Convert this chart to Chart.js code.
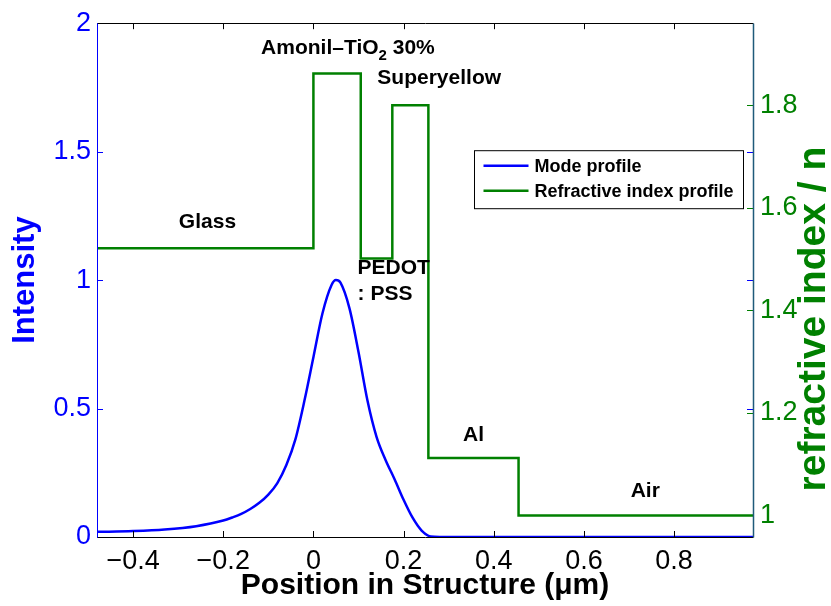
<!DOCTYPE html>
<html lang="en">
<head>
<meta charset="UTF-8">
<title>Mode and refractive index profile</title>
<script src="https://cdn.jsdelivr.net/npm/chart.js"></script>
<style>
  html, body { margin: 0; padding: 0; background: #fff; }
  #wrap { width: 831px; height: 606px; }
</style>
</head>
<body>
<div id="wrap"><canvas id="modeChart" width="831" height="606"></canvas></div>
<script>
// mode intensity (position in um)
const modeX = [-0.48, -0.40, -0.33, -0.26, -0.20, -0.18, -0.16, -0.14, -0.12, -0.10, -0.08, -0.06,
               -0.04, -0.02, 0.00, 0.02, 0.04, 0.05, 0.06, 0.08, 0.10, 0.12, 0.14, 0.16, 0.18,
               0.20, 0.22, 0.24, 0.26, 0.28, 0.40, 0.60, 0.80, 0.975];
const modeIntensity = [0.020, 0.023, 0.029, 0.042, 0.064, 0.076, 0.090, 0.109, 0.133, 0.165, 0.210, 0.280,
                       0.380, 0.530, 0.700, 0.870, 0.980, 1.000, 0.990, 0.890, 0.720, 0.530, 0.390, 0.300, 0.225,
                       0.145, 0.075, 0.025, 0.002, 0, 0, 0, 0, 0];

// layer stack
const layerNames = ['Glass', 'Amonil\u2013TiO2 30%', 'PEDOT : PSS', 'Superyellow', 'Al', 'Air'];
const layerStart = [-0.48, 0, 0.105, 0.175, 0.255, 0.455];
const layerEnd = [0, 0.105, 0.175, 0.255, 0.455, 0.975];
const layerIndex = [1.521, 1.862, 1.501, 1.80, 1.112, 1.0];

const xTicks = [-0.4, -0.2, 0, 0.2, 0.4, 0.6, 0.8];
const intensityTicks = [0, 0.5, 1, 1.5, 2];
const indexTicks = [1, 1.2, 1.4, 1.6, 1.8];

const BLUE = '#0000ff';
const GREEN = '#008000';
const FONT = '"Liberation Sans", Arial, Helvetica, sans-serif';

const modeData = modeX.map((x, i) => ({ x: x, y: modeIntensity[i] }));
const indexData = [];
layerStart.forEach((s, i) => {
    indexData.push({ x: s, y: layerIndex[i] });
    indexData.push({ x: layerEnd[i], y: layerIndex[i] });
});

function fixTicks(values) {
    return scale => { scale.ticks = values.map(v => ({ value: v })); };
}
const fmt = v => String(Math.round(v * 10) / 10).replace('-', '\u2212');

// label anchors (data coords on the x / refractive index axes)
const labelSpots = [
    { x: -0.235, n: 1.571, align: 'center' },
    { x: -0.116, n: 1.912, align: 'left' },
    { x: 0.098, n: 1.482, align: 'left' },
    { x: 0.279, n: 1.852, align: 'center' },
    { x: 0.355, n: 1.156, align: 'center' },
    { x: 0.736, n: 1.048, align: 'center' }
];

const decorPlugin = {
    id: 'decor',
    afterDatasetsDraw(chart) {
        const ctx = chart.ctx;
        const a = chart.chartArea;
        const sx = chart.scales.x, sy = chart.scales.y, sn = chart.scales.y2;
        const t = 6;
        ctx.save();
        ctx.lineWidth = 1;

        // inward ticks
        ctx.strokeStyle = '#000';
        xTicks.forEach(v => {
            const px = Math.round(sx.getPixelForValue(v)) + 0.5;
            ctx.beginPath();
            ctx.moveTo(px, a.bottom); ctx.lineTo(px, a.bottom - t);
            ctx.moveTo(px, a.top); ctx.lineTo(px, a.top + t);
            ctx.stroke();
        });
        ctx.strokeStyle = BLUE;
        intensityTicks.forEach(v => {
            const py = Math.round(sy.getPixelForValue(v)) + 0.5;
            ctx.beginPath();
            ctx.moveTo(a.left, py); ctx.lineTo(a.left + t, py);
            ctx.moveTo(a.right, py); ctx.lineTo(a.right - t, py);
            ctx.stroke();
        });
        ctx.strokeStyle = GREEN;
        indexTicks.forEach(v => {
            const py = Math.round(sn.getPixelForValue(v)) + 0.5;
            ctx.beginPath();
            ctx.moveTo(a.right, py); ctx.lineTo(a.right - t, py);
            ctx.stroke();
        });

        // frame
        const L = Math.round(a.left) + 0.5, R = Math.round(a.right) + 0.5;
        const T = Math.round(a.top) + 0.5, B = Math.round(a.bottom) + 0.5;
        ctx.strokeStyle = '#000';
        ctx.beginPath(); ctx.moveTo(L, T); ctx.lineTo(R, T); ctx.moveTo(L, B); ctx.lineTo(R, B); ctx.stroke();
        ctx.strokeStyle = BLUE;
        ctx.beginPath(); ctx.moveTo(L, T); ctx.lineTo(L, B); ctx.stroke();
        ctx.strokeStyle = '#1f5a7a';
        ctx.lineWidth = 1.5;
        ctx.beginPath(); ctx.moveTo(R, T); ctx.lineTo(R, B); ctx.stroke();

        // right axis title, reading bottom to top
        ctx.save();
        ctx.translate(chart.width - 17, (a.top + a.bottom) / 2 + 39);
        ctx.rotate(-Math.PI / 2);
        ctx.fillStyle = GREEN;
        ctx.font = 'bold 39px ' + FONT;
        ctx.textAlign = 'center';
        ctx.textBaseline = 'middle';
        ctx.fillText('refractive index / n', 0, 0);
        ctx.restore();

        // layer labels
        ctx.fillStyle = '#000';
        ctx.textBaseline = 'middle';
        const f = 'bold 21px ' + FONT;
        const fs = 'bold 15px ' + FONT;
        layerNames.forEach((name, i) => {
            const s = labelSpots[i];
            const px = sx.getPixelForValue(s.x);
            const py = sn.getPixelForValue(s.n);
            ctx.font = f;
            if (name.indexOf('TiO2') >= 0) {
                const parts = name.split('TiO2');
                let cx = px;
                ctx.textAlign = 'left';
                ctx.fillText(parts[0] + 'TiO', cx, py);
                cx += ctx.measureText(parts[0] + 'TiO').width;
                ctx.font = fs;
                ctx.fillText('2', cx, py + 8);
                cx += ctx.measureText('2').width;
                ctx.font = f;
                ctx.fillText(parts[1], cx, py);
            } else if (name.indexOf(' : ') >= 0) {
                const parts = name.split(' : ');
                ctx.textAlign = 'left';
                ctx.fillText(parts[0], px, py);
                ctx.fillText(': ' + parts[1], px, py + 26);
            } else {
                ctx.textAlign = s.align;
                ctx.fillText(name, px, py);
            }
        });

        // legend box
        const bx = a.right - 278.5, by = a.top + 127.5, bw = 269, bh = 58;
        ctx.fillStyle = '#fff';
        ctx.fillRect(bx, by, bw, bh);
        ctx.strokeStyle = '#000';
        ctx.lineWidth = 1;
        ctx.strokeRect(bx, by, bw, bh);
        const entries = [['Mode profile', BLUE], ['Refractive index profile', GREEN]];
        ctx.font = 'bold 18px ' + FONT;
        ctx.textAlign = 'left';
        entries.forEach((e, i) => {
            const ly = by + 15 + i * 25;
            ctx.strokeStyle = e[1];
            ctx.lineWidth = 2.5;
            ctx.beginPath(); ctx.moveTo(bx + 9, ly); ctx.lineTo(bx + 54, ly); ctx.stroke();
            ctx.fillStyle = '#000';
            ctx.fillText(e[0], bx + 60, ly + 1);
        });
        ctx.restore();
    }
};

const ctx = document.getElementById('modeChart').getContext('2d');
const modeChart = new Chart(ctx, {
    type: 'line',
    data: {
        datasets: [
            {
                label: 'Mode profile',
                data: modeData,
                yAxisID: 'y',
                borderColor: BLUE,
                borderWidth: 2.5,
                pointRadius: 0,
                cubicInterpolationMode: 'monotone',
                fill: false
            },
            {
                label: 'Refractive index profile',
                data: indexData,
                yAxisID: 'y2',
                borderColor: GREEN,
                borderWidth: 2.5,
                pointRadius: 0,
                tension: 0,
                fill: false
            }
        ]
    },
    options: {
        responsive: false,
        animation: false,
        layout: { padding: { top: 20, left: 0, right: 0, bottom: 0 } },
        plugins: { legend: { display: false }, tooltip: { enabled: false } },
        scales: {
            x: {
                type: 'linear',
                min: -0.48,
                max: 0.975,
                afterBuildTicks: fixTicks(xTicks),
                afterFit: s => { s.height = 69; },
                grid: { display: false, drawTicks: false },
                border: { display: false },
                ticks: {
                    color: '#000',
                    padding: 8,
                    maxRotation: 0,
                    font: { family: FONT, size: 27 },
                    callback: fmt
                },
                title: {
                    display: true,
                    text: 'Position in Structure (\u03bcm)',
                    color: '#000',
                    padding: { top: 0, bottom: 2 },
                    font: { family: FONT, size: 30, weight: 'bold' }
                }
            },
            y: {
                position: 'left',
                min: 0,
                max: 2,
                afterBuildTicks: fixTicks(intensityTicks),
                afterFit: s => { s.width = 97; },
                grid: { display: false, drawTicks: false },
                border: { display: false },
                ticks: {
                    color: BLUE,
                    padding: 6,
                    font: { family: FONT, size: 27 },
                    callback: fmt
                },
                title: {
                    display: true,
                    text: 'Intensity',
                    color: BLUE,
                    padding: { top: 7, bottom: 0 },
                    font: { family: FONT, size: 31, weight: 'bold' }
                }
            },
            y2: {
                position: 'right',
                min: 0.958,
                max: 1.96,
                afterBuildTicks: fixTicks(indexTicks),
                afterFit: s => { s.width = 78; },
                grid: { display: false, drawTicks: false },
                border: { display: false },
                ticks: {
                    color: GREEN,
                    padding: 7,
                    font: { family: FONT, size: 27 },
                    callback: fmt
                },
                title: { display: false }
            }
        }
    },
    plugins: [decorPlugin]
});
</script>
</body>
</html>
